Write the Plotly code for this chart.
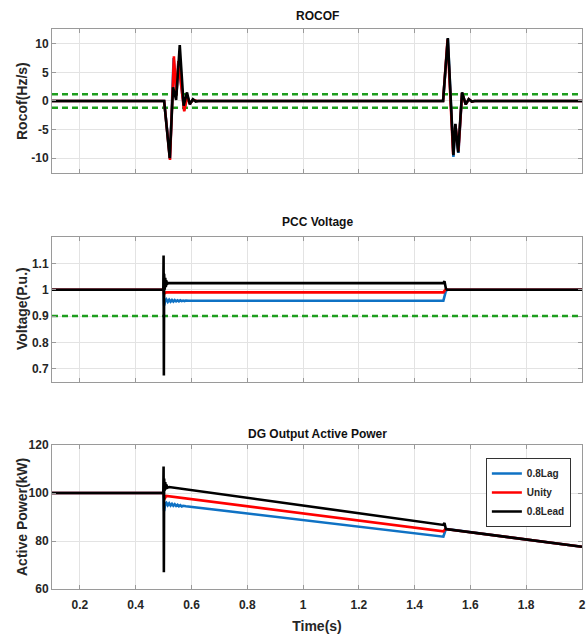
import plotly.graph_objects as go

# ---------------- data ----------------
# ROCOF (Hz/s)
rocof_t_lag = [0.1, 0.502, 0.523, 0.536, 0.546, 0.553, 0.574, 0.585, 0.595, 0.605, 0.62,
               1.502, 1.519, 1.539, 1.546, 1.557, 1.570, 1.583, 1.594, 1.605, 1.615, 2.0]
rocof_lag = [0, 0, -10.1, 7.5, 1.2, 6.8, -1.6, 0.9, -0.5, 0.2, 0,
             0, 10.9, -9.8, -4.1, -9.1, 1.4, -0.6, 0.3, -0.1, 0, 0]

rocof_t_unity = [0.1, 0.502, 0.523, 0.537, 0.546, 0.553, 0.574, 0.585, 0.595, 0.605, 0.62,
                 1.502, 1.518, 1.538, 1.546, 1.557, 1.570, 1.583, 1.594, 1.605, 1.615, 2.0]
rocof_unity = [0, 0, -10.3, 7.8, 1.0, 7.0, -1.8, 0.8, -0.5, 0.2, 0,
               0, 10.8, -9.3, -4.2, -8.8, 1.4, -0.6, 0.3, -0.1, 0, 0]

rocof_t_lead = [0.1, 0.502, 0.522, 0.534, 0.545, 0.558, 0.572, 0.584, 0.594, 0.605, 0.615, 0.625,
                1.502, 1.519, 1.539, 1.546, 1.556, 1.570, 1.583, 1.594, 1.605, 1.615, 2.0]
rocof_lead = [0, 0, -10.0, 2.4, 0.2, 9.8, -0.8, 1.5, -0.6, 0.3, -0.1, 0,
              0, 11.0, -9.5, -4.0, -9.0, 1.5, -0.6, 0.3, -0.1, 0, 0]

rocof_limit = 1.2

# PCC voltage (p.u.)
volt_t_lag = [0.1, 0.5, 0.502, 0.505, 0.510, 0.515, 0.520, 0.525, 0.530, 0.535, 0.540, 0.545,
              0.550, 0.555, 0.560, 0.565, 0.570, 0.575, 0.580, 0.590, 1.503, 1.507, 1.512, 1.518, 2.0]
volt_lag = [1.0, 1.0, 0.94, 0.955, 0.963, 0.954, 0.962, 0.955, 0.961, 0.955, 0.961, 0.956,
            0.960, 0.956, 0.960, 0.957, 0.959, 0.957, 0.959, 0.958, 0.958, 0.975, 0.995, 1.0, 1.0]

volt_t_unity = [0.1, 0.5, 0.502, 0.510, 1.503, 1.510, 2.0]
volt_unity = [1.0, 1.0, 0.985, 0.99, 0.99, 1.0, 1.0]

volt_t_lead = [0.1, 0.499, 0.5, 0.501, 0.502, 0.504, 0.506, 0.508, 0.510, 0.512, 0.515,
               1.503, 1.507, 1.512, 1.516, 2.0]
volt_lead = [1.0, 1.0, 1.13, 0.675, 1.06, 1.0, 1.045, 1.01, 1.035, 1.02, 1.025,
             1.025, 1.032, 1.005, 1.0, 1.0]

volt_limit = 0.9

# DG output active power (kW)
power_t_lag = [0.1, 0.5, 0.502, 0.506, 0.510, 0.515, 0.520, 0.525, 0.530, 0.535, 0.540, 0.545,
               0.550, 0.555, 0.560, 0.565, 0.570, 0.580, 1.503, 1.507, 1.512, 2.0]
power_lag = [100, 100, 92.5, 95.5, 95.9, 94.9, 95.7, 94.8, 95.5, 94.7, 95.3, 94.6,
             95.1, 94.5, 94.9, 94.4, 94.7, 94.5, 81.8, 83.5, 85.0, 77.6]

power_t_unity = [0.1, 0.5, 0.503, 0.510, 1.503, 1.510, 2.0]
power_unity = [100, 100, 97.5, 98.8, 84.0, 85.0, 77.6]

power_t_lead = [0.1, 0.499, 0.5, 0.501, 0.502, 0.504, 0.506, 0.508, 0.510, 0.513, 0.520,
                1.503, 1.507, 1.512, 2.0]
power_lead = [100, 100, 111, 67, 106, 101, 104.5, 101.5, 103.5, 102.2, 102.5,
              86.7, 87.5, 85.0, 77.6]

series_names = ["0.8Lag", "Unity", "0.8Lead"]
series_colors = ["#0F72C4", "#FF0000", "#000000"]
limit_color = "#1E9E1E"

x_ticks = [0.2, 0.4, 0.6, 0.8, 1.0, 1.2, 1.4, 1.6, 1.8, 2.0]
x_tick_text = ["0.2", "0.4", "0.6", "0.8", "1", "1.2", "1.4", "1.6", "1.8", "2"]

rocof_ticks = [-10, -5, 0, 5, 10]
volt_ticks = [0.7, 0.8, 0.9, 1.0, 1.1]
volt_tick_text = ["0.7", "0.8", "0.9", "1", "1.1"]
power_ticks = [60, 80, 100, 120]

titles = ["ROCOF", "PCC Voltage", "DG Output Active Power"]
y_titles = ["Rocof(Hz/s)", "Voltage(P.u.)", "Active Power(kW)"]

# ---------------- figure ----------------
FONT = "Liberation Sans, Arial, sans-serif"
fig = go.Figure()

panels = [
    ("x", "y", [(rocof_t_lag, rocof_lag), (rocof_t_unity, rocof_unity), (rocof_t_lead, rocof_lead)], rocof_limit, True),
    ("x2", "y2", [(volt_t_lag, volt_lag), (volt_t_unity, volt_unity), (volt_t_lead, volt_lead)], volt_limit, False),
    ("x3", "y3", [(power_t_lag, power_lag), (power_t_unity, power_unity), (power_t_lead, power_lead)], None, False),
]

for p, (xa, ya, series, limit, symmetric) in enumerate(panels):
    if limit is not None:
        levels = [limit, -limit] if symmetric else [limit]
        for lv in levels:
            fig.add_trace(go.Scatter(
                x=[0.1, 2.0], y=[lv, lv], mode="lines", xaxis=xa, yaxis=ya,
                line=dict(color=limit_color, width=2.5, dash="6px,4px"),
                showlegend=False, hoverinfo="skip"))
    for (tx, vy), name, col in zip(series, series_names, series_colors):
        fig.add_trace(go.Scatter(
            x=tx, y=vy, mode="lines", name=name, xaxis=xa, yaxis=ya,
            line=dict(color=col, width=2.6),
            showlegend=(p == 2)))

axis_common = dict(
    showline=True, linecolor="#9a9a9a", linewidth=1, mirror="ticks",
    ticks="inside", ticklen=4, tickcolor="#9a9a9a",
    showgrid=True, gridcolor="#e3e3e3", gridwidth=1, zeroline=False,
    tickfont=dict(family=FONT, size=12, color="#262626", weight="bold"),
    ticklabeloverflow="allow",
)

domains = [[0.7429, 1.0], [0.3696, 0.6286], [0.0, 0.2571]]
y_ranges = [[-12.6, 12.6], [0.65, 1.2], [60, 120]]
y_tickvals = [rocof_ticks, volt_ticks, power_ticks]
y_ticktext = [[str(v) for v in rocof_ticks], volt_tick_text, [str(v) for v in power_ticks]]

layout = dict(
    width=588, height=634,
    margin=dict(l=52, r=2, t=29, b=45),
    paper_bgcolor="white", plot_bgcolor="white",
    font=dict(family=FONT),
    showlegend=True,
    legend=dict(
        x=0.979, y=0.234, xanchor="right", yanchor="top",
        bgcolor="white", bordercolor="#333333", borderwidth=1,
        font=dict(family=FONT, size=10, color="#262626", weight="bold"),
        tracegroupgap=0, itemwidth=30,
    ),
)

for i in range(3):
    sfx = "" if i == 0 else str(i + 1)
    layout["xaxis" + sfx] = dict(
        axis_common, domain=[0, 1], range=[0.1, 2.0],
        tickvals=x_ticks, ticktext=x_tick_text,
        showticklabels=(i == 2), anchor="y" + sfx,
        ticklabelstandoff=5,
    )
    layout["yaxis" + sfx] = dict(
        axis_common, domain=domains[i], range=y_ranges[i],
        tickvals=y_tickvals[i], ticktext=y_ticktext[i], anchor="x" + sfx,
    )

fig.update_layout(**layout)
fig.update_layout(xaxis3_title=dict(
    text="Time(s)", standoff=10,
    font=dict(family=FONT, size=14, color="#262626", weight="bold")))

# panel titles and vertical axis labels
title_y_px = [16, 222, 434]
label_y_px = [101, 309, 517]
annotations = []
for i in range(3):
    annotations.append(dict(
        text="<b>%s</b>" % titles[i], x=0.5, xref="paper",
        y=(589 - title_y_px[i]) / 560, yref="paper", yanchor="middle",
        showarrow=False, font=dict(family=FONT, size=12, color="#111111")))
    annotations.append(dict(
        text="<b>%s</b>" % y_titles[i], textangle=-90,
        x=0, xref="paper", xshift=-30, xanchor="center",
        y=(589 - label_y_px[i]) / 560, yref="paper", yanchor="middle",
        showarrow=False, font=dict(family=FONT, size=14, color="#262626")))
fig.update_layout(annotations=annotations)

fig.write_html("out.html")
